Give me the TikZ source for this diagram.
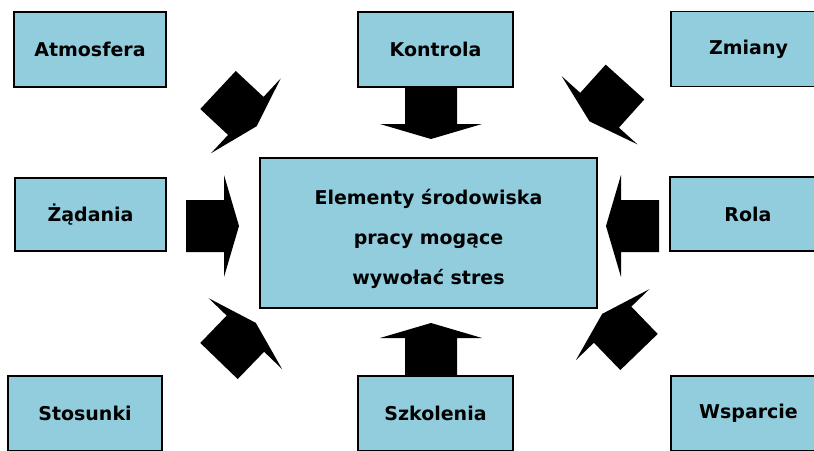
\documentclass[tikz,border=0pt]{standalone}
\usepackage{fontspec}
\setmainfont{DejaVu Sans}
\definecolor{boxblue}{RGB}{146,205,221}
\begin{document}
\begin{tikzpicture}[x=1pt,y=-1pt,
  box/.style={draw=black,line width=1.4pt,fill=boxblue,inner sep=0pt,
    font=\bfseries\fontsize{19}{23}\selectfont},
  sidebox/.style={box,minimum width=154pt,minimum height=75pt},
  blockarrow/.pic={\fill[black] (0,26) -- (38,26) -- (38,51) -- (53,0) -- (38,-51) -- (38,-26) -- (0,-26) -- cycle;}]
\useasboundingbox (0,0) rectangle (814,450);
% boxes
\node[sidebox,minimum width=152pt] (atm) at (90,49.5) {Atmosfera};
\node[sidebox,minimum width=155pt] (kon) at (435.5,49.5) {Kontrola};
\node[sidebox,minimum width=155pt] (zmi) at (748.5,49) {Zmiany};
\node[sidebox,minimum width=151pt,minimum height=73pt] (zad) at (90.5,214.5) {Żądania};
\node[sidebox,minimum width=156pt,minimum height=74pt] (rol) at (748,214) {Rola};
\node[sidebox] (sto) at (85,413.5) {Stosunki};
\node[sidebox,minimum width=155pt] (szk) at (435.5,413.5) {Szkolenia};
\node[sidebox,minimum width=155pt] (wsp) at (748.5,413.5) {Wsparcie};
\node[box,minimum width=337pt,minimum height=150pt] (mid) at (428.5,233) {};
\node[align=center,inner sep=0pt,font=\bfseries\fontsize{19}{40}\selectfont] (midtext) at (428.5,239)
  {Elementy środowiska\\pracy mogące\\wywołać stres};
% arrow bases
\coordinate (aKon) at (431,86);
\coordinate (aSzk) at (431,376);
\coordinate (aZad) at (186,226);
\coordinate (aRol) at (659,226);
\coordinate (aAtm) at (218,90);
\coordinate (aZmi) at (625,82);
\coordinate (aSto) at (219,361);
\coordinate (aWsp) at (639,352);
\path (aKon) pic[rotate=-90] {blockarrow};
\path (aSzk) pic[rotate=90] {blockarrow};
\path (aZad) pic[rotate=0] {blockarrow};
\path (aRol) pic[rotate=180] {blockarrow};
\path (aAtm) pic[rotate=-43] {blockarrow};
\path (aZmi) pic[rotate=-132] {blockarrow};
\path (aSto) pic[rotate=46] {blockarrow};
\path (aWsp) pic[rotate=134] {blockarrow};
\end{tikzpicture}
\end{document}
